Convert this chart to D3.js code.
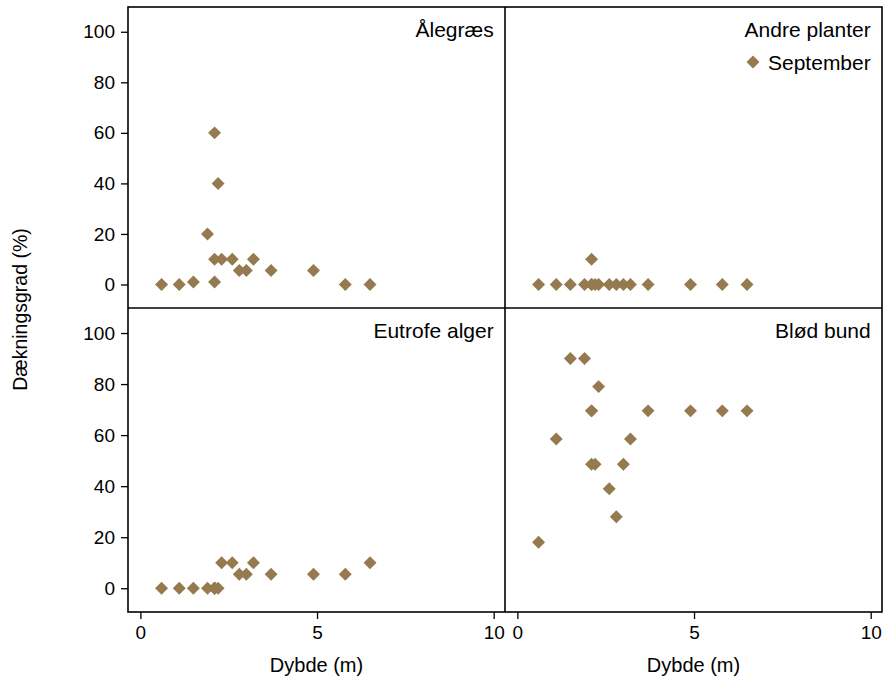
<!DOCTYPE html>
<html><head><meta charset="utf-8">
<script src="https://cdn.jsdelivr.net/npm/d3@7"></script>
<style>body{margin:0;background:#fff}text{font-family:"Liberation Sans",Arial,sans-serif;fill:#000}</style>
</head><body>
<script>
// Station depths (m) shared by all panels
const depth = [0.6, 1.1, 1.5, 1.9, 2.1, 2.1, 2.1, 2.2, 2.3, 2.6, 2.8, 3.0, 3.2, 3.7, 4.9, 5.8, 6.5];
const aalegraes   = [0, 0, 1, 20, 60, 10, 1, 40, 10, 10, 5.5, 5.5, 10, 5.5, 5.5, 0, 0];
const andrePlanter= [0, 0, 0, 0, 10, 0, 0, 0, 0, 0, 0, 0, 0, 0, 0, 0, 0];
const eutrofe     = [0, 0, 0, 0, 0, 0, 0, 0, 10, 10, 5.5, 5.5, 10, 5.5, 5.5, 5.5, 10];
const blodBund    = [18, 58.5, 90, 90, 69.5, 48.6, 69.5, 48.6, 79, 39, 28, 48.6, 58.5, 69.5, 69.5, 69.5, 69.5];
const panelNames = ["Ålegræs", "Andre planter", "Eutrofe alger", "Blød bund"];
const xTicks = [0, 5, 10];
const yTicks = [0, 20, 40, 60, 80, 100];
const legendLabel = "September";
const xTitle = "Dybde (m)";
const yTitle = "Dækningsgrad (%)";
const color = "#957a4f";

const W = 893, H = 682;
const svg = d3.select("body").append("svg").attr("width", W).attr("height", H);
const L = 128, R = 882, T = 7, B = 612, MX = 505, MY = 308;
const cols = [[L, MX], [MX, R]];
const rows = [[T, MY], [MY, B]];
const xDom = [-0.35, 10.32], yDom = [-9.3, 109.8];
const series = [aalegraes, andrePlanter, eutrofe, blodBund];

const sym = d3.symbol().type(d3.symbolSquare).size(84);

series.forEach((vals, i) => {
  const c = i % 2, r = Math.floor(i / 2);
  const x = d3.scaleLinear().domain(xDom).range(cols[c]);
  const y = d3.scaleLinear().domain(yDom).range([rows[r][1], rows[r][0]]);
  const g = svg.append("g");
  // panel label
  g.append("text").attr("x", x(10)).attr("y", rows[r][0] + 29.5)
    .attr("text-anchor", "end").style("font-size", "21px").text(panelNames[i]);
  // points
  g.selectAll("path.pt").data(vals.map((v, k) => [depth[k], v])).enter()
    .append("path").attr("class", "pt").attr("d", sym).attr("fill", color)
    .attr("transform", d => `translate(${x(d[0])},${y(d[1])}) rotate(45)`);
  // y axis on left column
  if (c === 0) {
    const ax = svg.append("g").attr("transform", `translate(${L},0)`)
      .call(d3.axisLeft(y).tickValues(yTicks).tickSize(7).tickPadding(6));
    ax.select(".domain").remove();
    ax.selectAll("line").attr("stroke", "#000").attr("stroke-width", 1.3);
    ax.selectAll("text").style("font-size", "19px").attr("font-family", null);
  }
  // x axis on bottom row
  if (r === 1) {
    const ax = svg.append("g").attr("transform", `translate(0,${B})`)
      .call(d3.axisBottom(x).tickValues(xTicks).tickSize(7).tickPadding(7));
    ax.select(".domain").remove();
    ax.selectAll("line").attr("stroke", "#000").attr("stroke-width", 1.3);
    ax.selectAll("text").style("font-size", "19px").attr("font-family", null);
    svg.append("text").attr("x", (cols[c][0] + cols[c][1]) / 2).attr("y", 672)
      .attr("text-anchor", "middle").style("font-size", "20px").text(xTitle);
  }
});

// frame and dividers
const fr = svg.append("g").attr("fill", "none").attr("stroke", "#000").attr("stroke-width", 1.6);
fr.append("rect").attr("x", L).attr("y", T).attr("width", R - L).attr("height", B - T);
fr.append("line").attr("x1", MX).attr("x2", MX).attr("y1", T).attr("y2", B);
fr.append("line").attr("x1", L).attr("x2", R).attr("y1", MY).attr("y2", MY);

// y title
svg.append("text").attr("transform", `translate(27,${(T + B) / 2}) rotate(-90)`)
  .attr("text-anchor", "middle").style("font-size", "19.5px").text(yTitle);

// legend
svg.append("path").attr("d", sym).attr("fill", color)
  .attr("transform", "translate(753,62) rotate(45)");
svg.append("text").attr("x", 768).attr("y", 69.5).style("font-size", "21px").text(legendLabel);
</script>
</body></html>
